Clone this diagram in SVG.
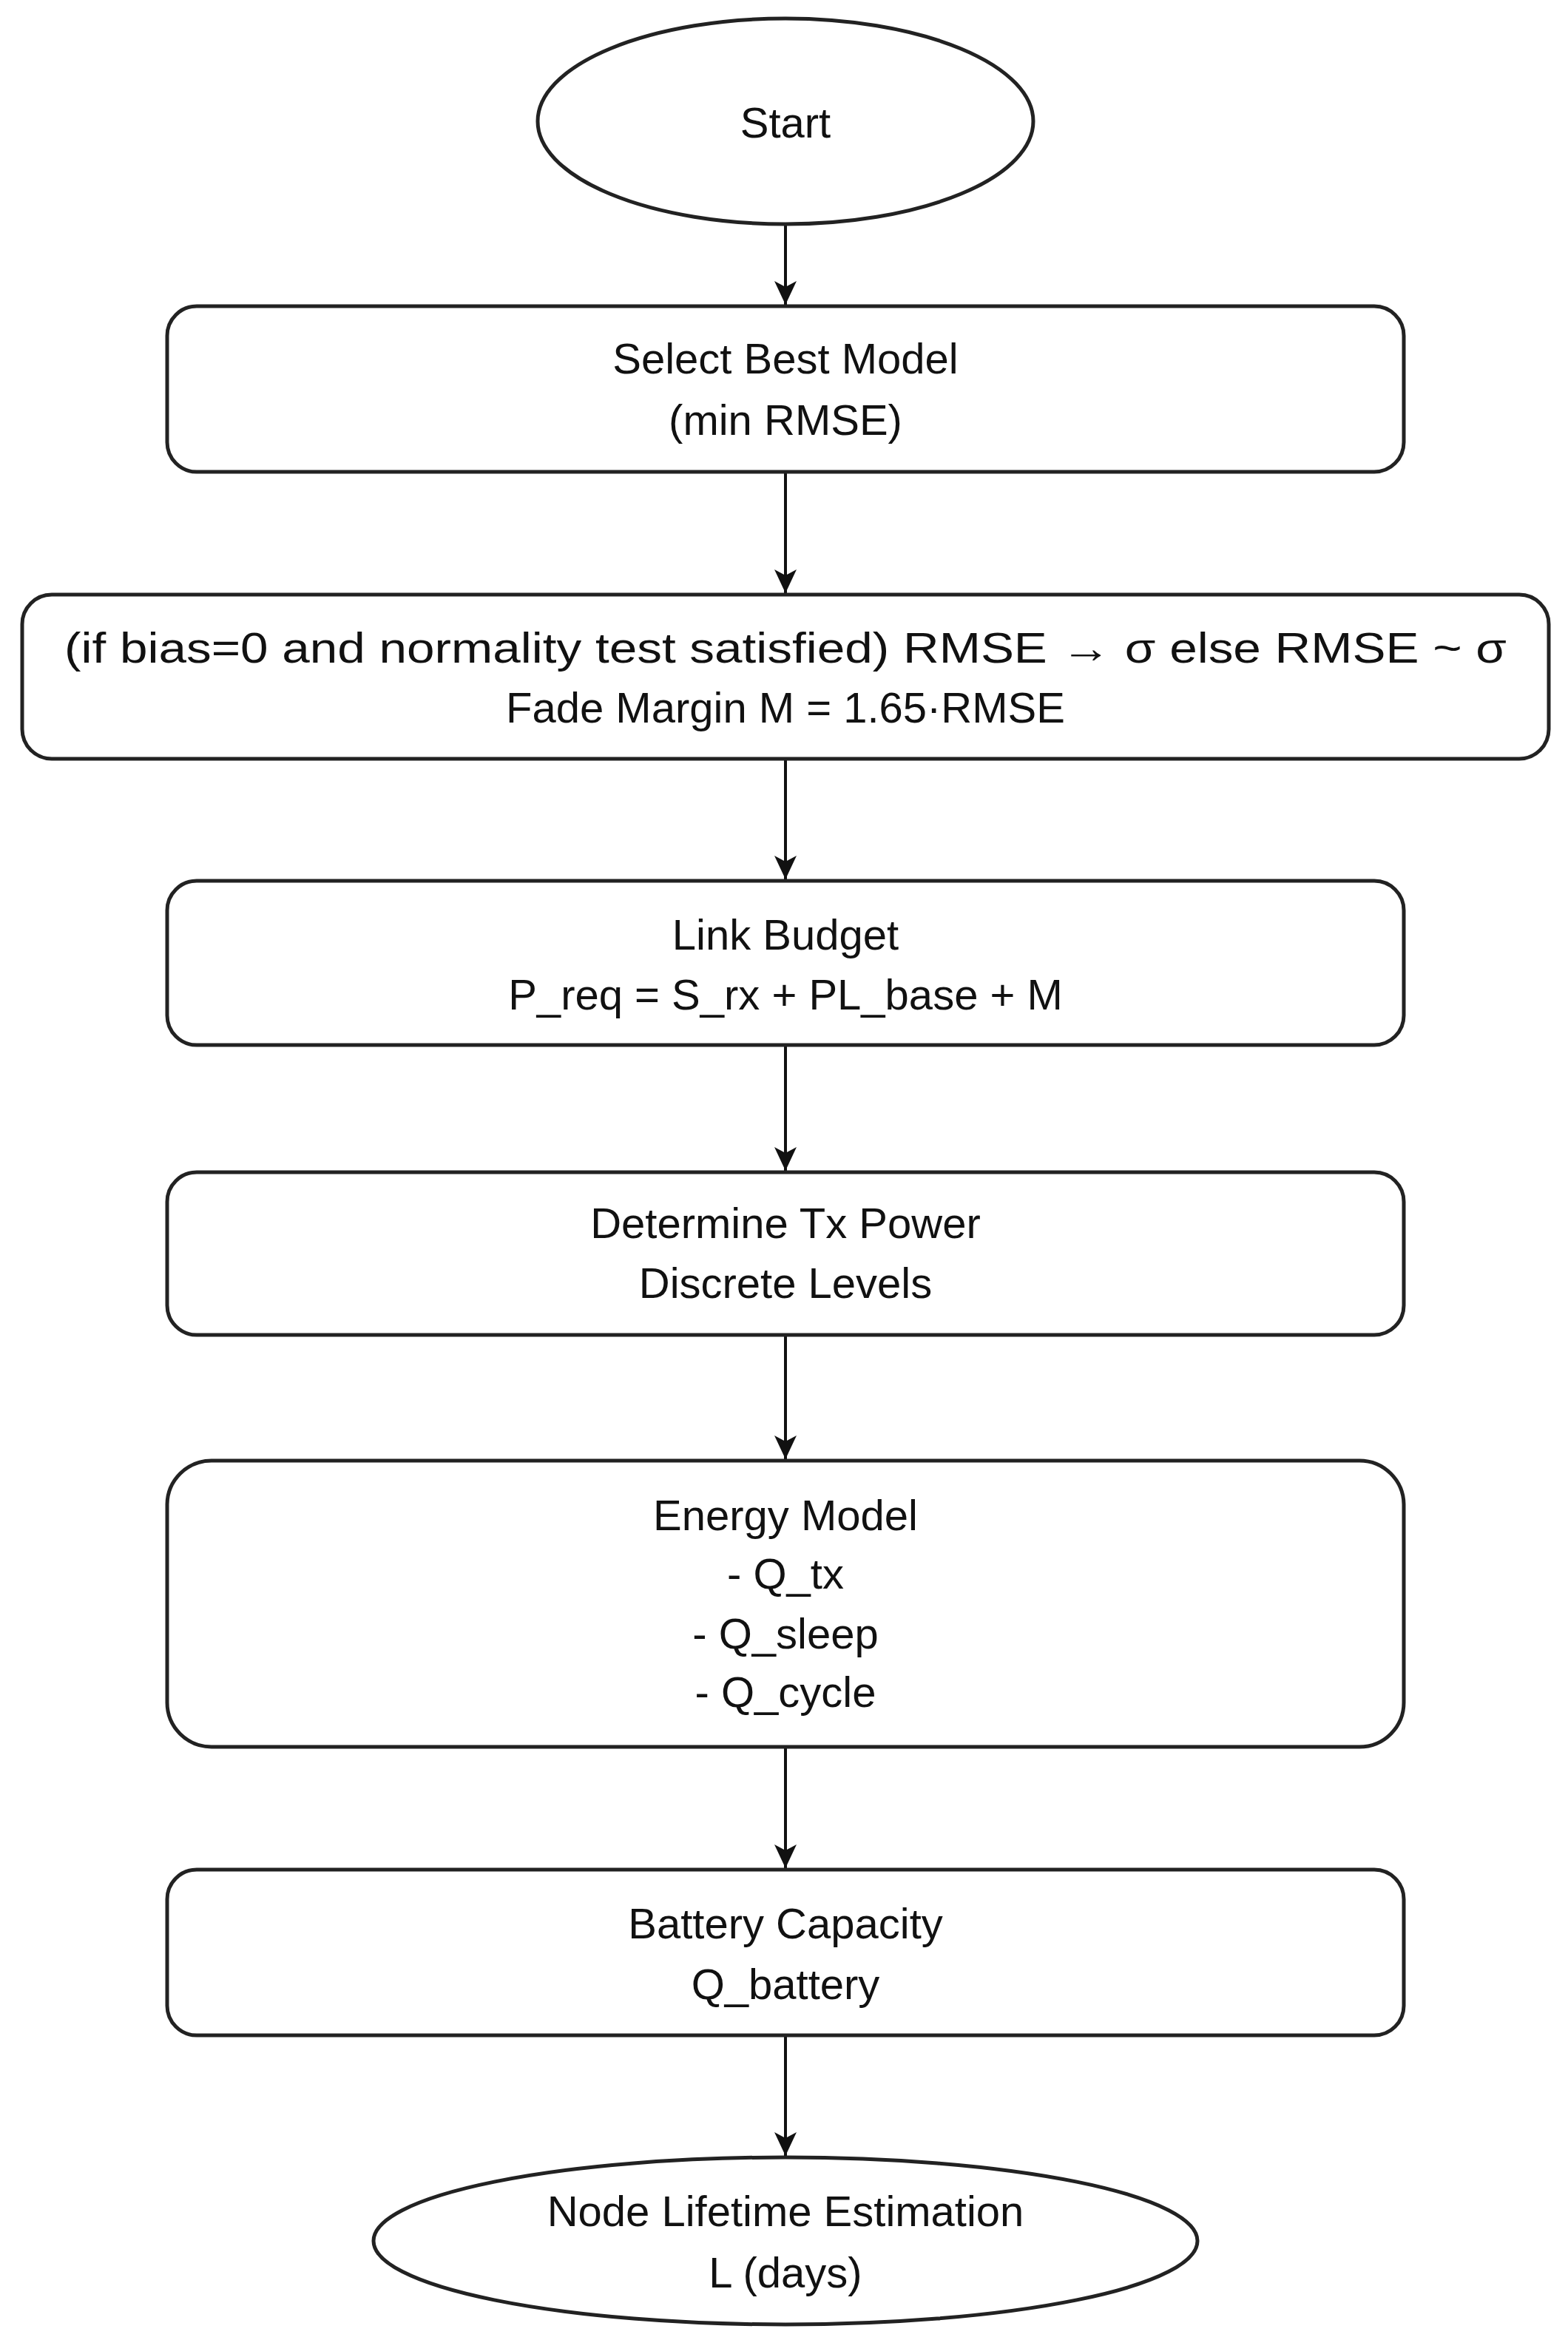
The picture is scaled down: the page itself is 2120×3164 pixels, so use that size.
<svg xmlns="http://www.w3.org/2000/svg" width="2120" height="3164" viewBox="0 0 2120 3164">
<style>
.s{fill:#fff;stroke:#222;stroke-width:5}
.t{font-family:"Liberation Sans",Arial,sans-serif;font-size:58px;fill:#111;text-anchor:middle}
.c{stroke:#111;stroke-width:4;fill:none;marker-end:url(#a)}
</style>
<defs><marker id="a" markerUnits="userSpaceOnUse" markerWidth="40" markerHeight="40" refX="32" refY="15" orient="auto"><path d="M0,0 L32,15 L0,30 L8,15 Z" fill="#111"/></marker></defs>
<rect width="2120" height="3164" fill="#fff"/>
<g id="connectors">
<line class="c" x1="1062" y1="303" x2="1062" y2="412"/>
<line class="c" x1="1062" y1="638" x2="1062" y2="802"/>
<line class="c" x1="1062" y1="1026" x2="1062" y2="1189"/>
<line class="c" x1="1062" y1="1413" x2="1062" y2="1583"/>
<line class="c" x1="1062" y1="1805" x2="1062" y2="1973"/>
<line class="c" x1="1062" y1="2362" x2="1062" y2="2526"/>
<line class="c" x1="1062" y1="2752" x2="1062" y2="2915"/>
</g>
<g id="start"><ellipse class="s" cx="1062" cy="164" rx="335" ry="139"/><text class="t" x="1062" y="186">Start</text></g>
<g id="select"><rect class="s" x="226" y="414" width="1672" height="224" rx="40"/><text class="t" x="1062" y="505">Select Best Model</text><text class="t" x="1062" y="588">(min RMSE)</text></g>
<g id="margin"><rect class="s" x="30" y="804" width="2064" height="222" rx="40"/><text class="t" x="1062" y="896" textLength="1950" lengthAdjust="spacingAndGlyphs">(if bias=0 and normality test satisfied) RMSE → σ  else RMSE ~ σ</text><text class="t" x="1062" y="977">Fade Margin M = 1.65·RMSE</text></g>
<g id="link"><rect class="s" x="226" y="1191" width="1672" height="222" rx="40"/><text class="t" x="1062" y="1284">Link Budget</text><text class="t" x="1062" y="1365">P_req = S_rx + PL_base + M</text></g>
<g id="tx"><rect class="s" x="226" y="1585" width="1672" height="220" rx="40"/><text class="t" x="1062" y="1674">Determine Tx Power</text><text class="t" x="1062" y="1755">Discrete Levels</text></g>
<g id="energy"><rect class="s" x="226" y="1975" width="1672" height="387" rx="60"/><text class="t" x="1062" y="2069">Energy Model</text><text class="t" x="1062" y="2148">- Q_tx</text><text class="t" x="1062" y="2229">- Q_sleep</text><text class="t" x="1062" y="2308">- Q_cycle</text></g>
<g id="battery"><rect class="s" x="226" y="2528" width="1672" height="224" rx="40"/><text class="t" x="1062" y="2621">Battery Capacity</text><text class="t" x="1062" y="2703">Q_battery</text></g>
<g id="end"><ellipse class="s" cx="1062" cy="3030" rx="557" ry="113"/><text class="t" x="1062" y="3010">Node Lifetime Estimation</text><text class="t" x="1062" y="3093">L (days)</text></g>
</svg>
